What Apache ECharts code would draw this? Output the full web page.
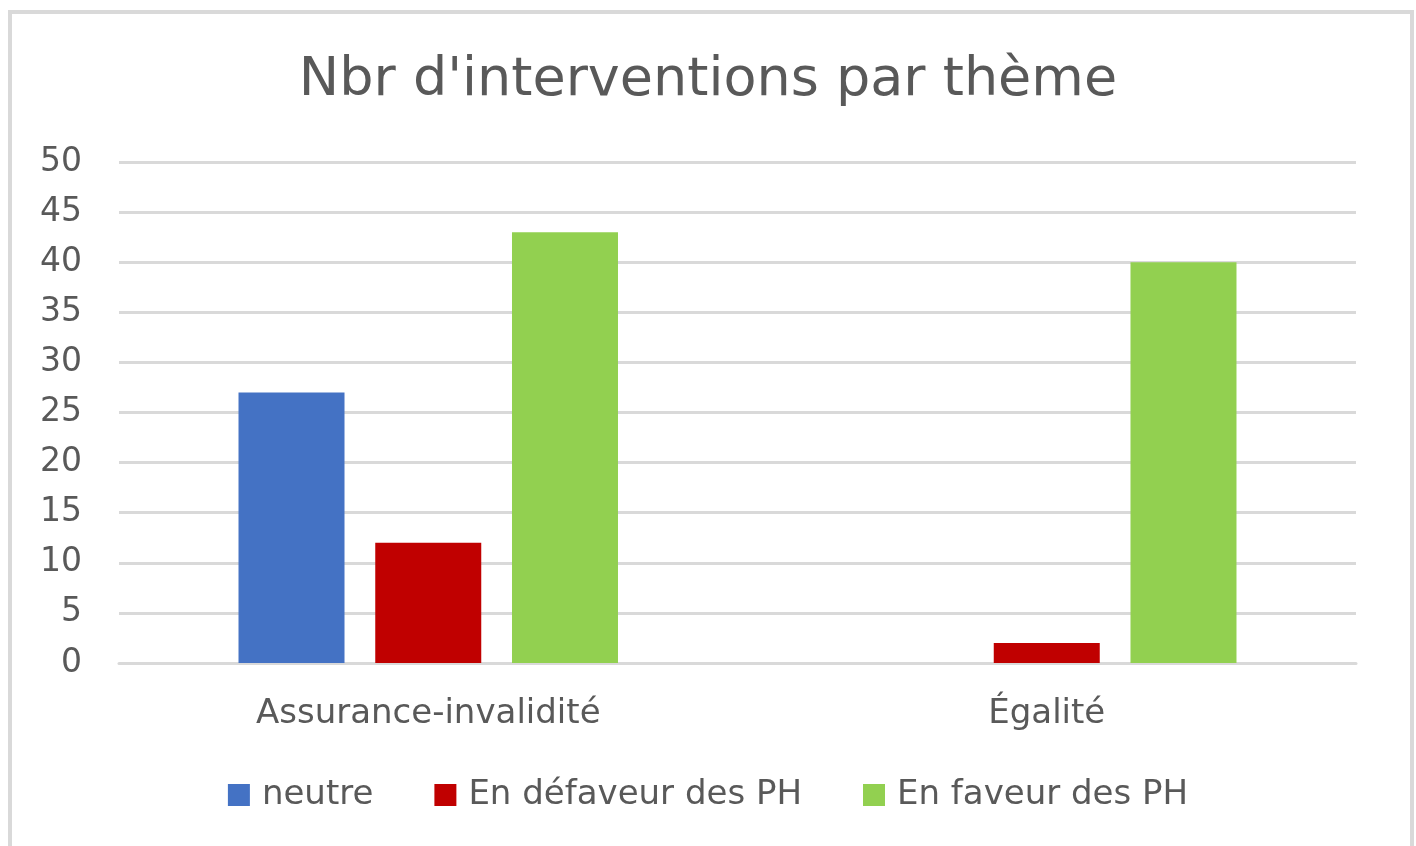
<!DOCTYPE html>
<html><head><meta charset="utf-8">
<script src="https://cdn.jsdelivr.net/npm/echarts@6/dist/echarts.min.js"></script>
<style>html,body{margin:0;padding:0;background:#fff}#c{width:1416px;height:846px}</style>
</head><body><div id="c"></div>
<script>
const categories = ["Assurance-invalidité", "Égalité"];
const seriesNames = ["neutre", "En défaveur des PH", "En faveur des PH"];
const neutre = [27, 0];
const defaveur = [12, 2];
const faveur = [43, 40];
const colors = ["#4472C4", "#C00000", "#92D050"];
const FONT = "DejaVu Sans";
const chart = echarts.init(document.getElementById('c'));
const values = [neutre, defaveur, faveur];
chart.setOption({
  animation: false,
  color: colors,
  textStyle: {fontFamily: FONT},
  graphic: [{type: 'rect', shape: {x: 10, y: 12, width: 1402, height: 860}, style: {fill: 'none', stroke: '#d9d9d9', lineWidth: 4}, z: -1}],
  title: {text: "Nbr d'interventions par thème", left: 'center', top: 49,
    textStyle: {fontFamily: FONT, fontSize: 54, fontWeight: 'normal', color: '#595959'}},
  legend: {bottom: 29, left: 'center', itemWidth: 22, itemHeight: 22, itemGap: 61, icon: 'rect',
    textStyle: {fontFamily: FONT, fontSize: 34, color: '#595959', padding: [0,0,0,7]}},
  grid: {left: 119, right: 60, top: 162, bottom: 183, containLabel: false},
  xAxis: {type: 'category', data: categories,
    axisLine: {lineStyle: {color: '#d9d9d9', width: 3}}, axisTick: {show: false},
    axisLabel: {fontFamily: FONT, fontSize: 34, color: '#595959', margin: 34}},
  yAxis: {type: 'value', min: 0, max: 50, interval: 5,
    axisLine: {show: false}, axisTick: {show: false},
    splitLine: {lineStyle: {color: '#d9d9d9', width: 3}},
    axisLabel: {fontFamily: FONT, fontSize: 33, color: '#595959', margin: 37}},
  series: seriesNames.map((n, i) => ({name: n, type: 'bar', data: values[i], barWidth: 106, barGap: '29%'}))
});
</script></body></html>
